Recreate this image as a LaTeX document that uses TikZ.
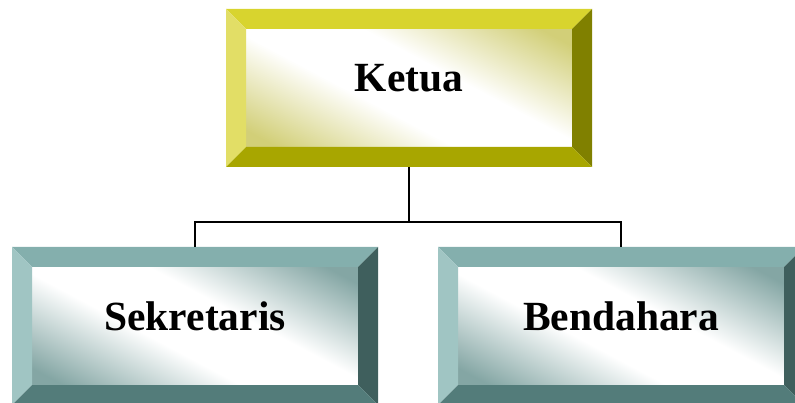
\documentclass[tikz,border=0pt]{standalone}
\usepackage{fontspec}
\setmainfont{Liberation Serif}
\usetikzlibrary{calc}
\definecolor{yltop}{HTML}{D8D42E}
\definecolor{ylleft}{HTML}{E2DE66}
\definecolor{ylright}{HTML}{808000}
\definecolor{ylbot}{HTML}{A8A600}
\definecolor{ylend}{HTML}{D2CF78}
\definecolor{tltop}{HTML}{84AFAD}
\definecolor{tlleft}{HTML}{A0C5C3}
\definecolor{tlright}{HTML}{3F5F5D}
\definecolor{tlbot}{HTML}{537C7A}
\definecolor{tlend}{HTML}{84A6A4}
\pgfdeclarehorizontalshading{ylshade}{100bp}{color(0bp)=(ylend); color(20bp)=(ylend); color(42bp)=(white); color(58bp)=(white); color(80bp)=(ylend); color(100bp)=(ylend)}
\pgfdeclarehorizontalshading{tlshade}{100bp}{color(0bp)=(tlend); color(20bp)=(tlend); color(42bp)=(white); color(58bp)=(white); color(80bp)=(tlend); color(100bp)=(tlend)}
\tikzset{
  boxlabel/.style={font=\bfseries\fontsize{41.5}{45}\selectfont, inner sep=0pt},
  conn/.style={draw=black, line width=1.5pt},
}
% #1 name, #2 x1, #3 y1, #4 x2, #5 y2, #6 palette, #7 text
\newcommand\bevbox[7]{%
  \shade[shading=#6shade, shading angle=62]
    (#2+20,#3+20) rectangle (#4-20,#5-20);
  \fill[#6top] (#2,#3) -- (#4,#3) -- (#4-20,#3+20) -- (#2+20,#3+20) -- cycle;
  \fill[#6left] (#2,#3) -- (#2+20,#3+20) -- (#2+20,#5-20) -- (#2,#5) -- cycle;
  \fill[#6right] (#4,#3) -- (#4,#5) -- (#4-20,#5-20) -- (#4-20,#3+20) -- cycle;
  \fill[#6bot] (#2,#5) -- (#2+20,#5-20) -- (#4-20,#5-20) -- (#4,#5) -- cycle;
  \node[minimum width={(#4-(#2))*1pt}, minimum height={(#5-(#3))*1pt}, inner sep=0pt]
    (#1) at ({(#2+#4)/2},{(#3+#5)/2}) {};
  \node[boxlabel] (#1-t) at ({(#2+#4)/2},{(#3+#5)/2-9.5}) {#7};
}
\begin{document}
\begin{tikzpicture}[x=1pt,y=-1pt]
  \useasboundingbox (0,0) rectangle (795,403);
  \begin{scope}
  \clip (0,0) rectangle (795,403);
  \bevbox{ketua}{226}{9}{592}{167}{yl}{Ketua}
  \bevbox{sek}{12}{247}{378}{405}{tl}{Sekretaris}
  \bevbox{ben}{438}{247}{804}{405}{tl}{Bendahara}
  \coordinate (j) at (409,222);
  \draw[conn] (ketua.south) -- (j);
  \draw[conn] (j) -| (sek.north);
  \draw[conn] (j) -| (ben.north);
  \end{scope}
\end{tikzpicture}
\end{document}
